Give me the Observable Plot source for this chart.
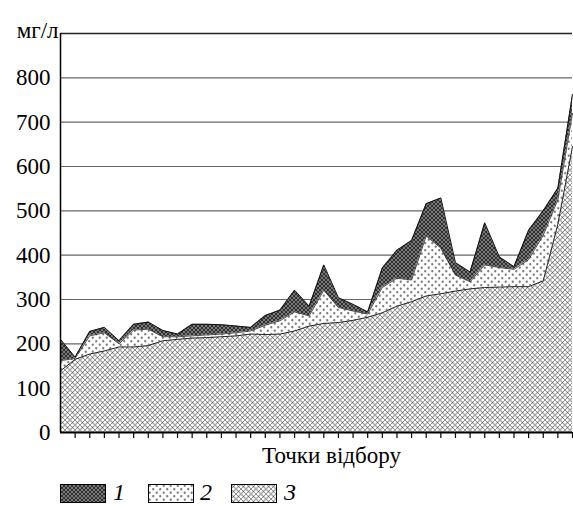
<!DOCTYPE html>
<html>
<head>
<meta charset="utf-8">
<script src="https://cdn.jsdelivr.net/npm/d3@7"></script>
<script src="https://cdn.jsdelivr.net/npm/@observablehq/plot@0.6"></script>
<style>
  body { margin: 0; background: white; font-family: "Liberation Serif", "Times New Roman", Times, "DejaVu Serif", serif; }
  #legend { position: relative; width: 573px; height: 32px; }
  .sw { position: absolute; top: 9px; }
  .lb { position: absolute; top: 4px; font-style: italic; font-size: 24px; line-height: 26px; }
  svg text { font-family: "Liberation Serif", "Times New Roman", Times, "DejaVu Serif", serif !important; }
  #chart svg text { font-size: 23px !important; }
</style>
</head>
<body>
<svg width="0" height="0" style="position:absolute">
  <defs>
    <pattern id="p1" patternUnits="userSpaceOnUse" width="4" height="4">
      <rect width="4" height="4" fill="#303030"/>
      <path d="M0,0L4,4M4,0L0,4" stroke="#9a9a9a" stroke-width="0.7"/>
    </pattern>
    <pattern id="p2" patternUnits="userSpaceOnUse" width="7" height="7">
      <rect width="7" height="7" fill="white"/>
      <circle cx="1.75" cy="1.75" r="1.15" fill="#7a7a7a"/>
      <circle cx="5.25" cy="5.25" r="1.15" fill="#7a7a7a"/>
    </pattern>
    <pattern id="p3" patternUnits="userSpaceOnUse" width="10" height="10">
      <rect width="10" height="10" fill="white"/>
      <path d="M0,0L10,10M10,0L0,10" stroke="#a8a8a8" stroke-width="1.4"/>
      <path d="M5,0L10,5M0,5L5,10M5,0L0,5M10,5L5,10" stroke="#222" stroke-width="0.5"/>
    </pattern>
  </defs>
</svg>
<div id="chart"></div>
<div id="legend"></div>
<script>
// Sampling points (index along x axis)
const points = d3.range(36);
// Component values, mg/l (stacked: series3 bottom, series2 middle, series1 top)
const series3 = [139,165,177,184,193,193,196,207,210,213,214,216,218,222,221,222,229,240,246,248,253,260,270,285,295,308,313,319,324,327,328,329,329,342,470,645];
const series2 = [23,2,41,41,7,38,37,9,6,5,6,6,7,7,21,30,43,23,75,34,21,7,57,63,49,135,103,36,16,51,44,39,61,103,55,75];
const series1 = [48,3,10,12,7,13,16,14,6,26,24,21,15,8,22,24,49,22,57,22,15,5,44,63,89,73,113,28,22,95,24,6,66,55,26,42];
const yTicks = [0,100,200,300,400,500,600,700,800];
const gridTicks = [100,200,300,400,500,600,700,800];
const legendLabels = ["1","2","3"];
const legendFills = ["url(#p1)","url(#p2)","url(#p3)"];

const data = points.map((p, i) => {
  const a = series3[i];
  const b = a + series2[i];
  const c = b + series1[i];
  return {x: p, s3: a, s2: b, s1: c};
});

const chart = Plot.plot({
  width: 573,
  height: 475,
  marginLeft: 60,
  marginRight: 1,
  marginTop: 33,
  marginBottom: 43,
  style: "font-size: 23px; background: white; color: black; overflow: visible;",
  x: {domain: [0, 35]},
  y: {domain: [0, 900]},
  marks: [
    Plot.gridY(gridTicks, {stroke: "#666", strokeOpacity: 1, strokeWidth: 1.2}),
    Plot.areaY(data, {x: "x", y1: 0, y2: "s3", fill: "url(#p3)"}),
    Plot.areaY(data, {x: "x", y1: "s3", y2: "s2", fill: "url(#p2)"}),
    Plot.areaY(data, {x: "x", y1: "s2", y2: "s1", fill: "url(#p1)"}),
    Plot.lineY(data, {x: "x", y: "s3", stroke: "#111", strokeWidth: 0.9}),
    Plot.lineY(data, {x: "x", y: "s2", stroke: "#222", strokeWidth: 0.8}),
    Plot.lineY(data, {x: "x", y: "s1", stroke: "#111", strokeWidth: 1}),
    Plot.axisY(yTicks, {tickSize: 0, tickPadding: 10, label: null, fontSize: 23}),
    Plot.axisX(points.slice(1), {tickSize: 6, tickFormat: () => "", label: null, strokeWidth: 1.2}),
    Plot.ruleY([0], {stroke: "black", strokeWidth: 2}),
    Plot.ruleY([900], {stroke: "#222", strokeWidth: 1.3}),
    Plot.ruleX([0], {stroke: "black", strokeWidth: 1.5}),
    Plot.text(["Точки відбору"], {frameAnchor: "bottom", dx: 15, dy: 30, fontSize: 23, text: d => d}),
    Plot.text(["мг/л"], {frameAnchor: "top-left", textAnchor: "end", dx: -2, dy: -12, fontSize: 23, text: d => d})
  ]
});
document.getElementById("chart").appendChild(chart);

const legend = document.getElementById("legend");
const swLeft = [60, 148, 231];
const lbLeft = [113, 200, 284];
legendLabels.forEach((lab, i) => {
  const s = document.createElementNS("http://www.w3.org/2000/svg", "svg");
  s.setAttribute("width", 46); s.setAttribute("height", 19);
  s.setAttribute("class", "sw");
  s.style.left = swLeft[i] + "px";
  s.innerHTML = `<rect x="0.5" y="0.5" width="45" height="18" fill="${legendFills[i]}" stroke="black" stroke-width="1"/>`;
  legend.appendChild(s);
  const t = document.createElement("span");
  t.className = "lb"; t.textContent = lab; t.style.left = lbLeft[i] + "px";
  legend.appendChild(t);
});
</script>
</body>
</html>
